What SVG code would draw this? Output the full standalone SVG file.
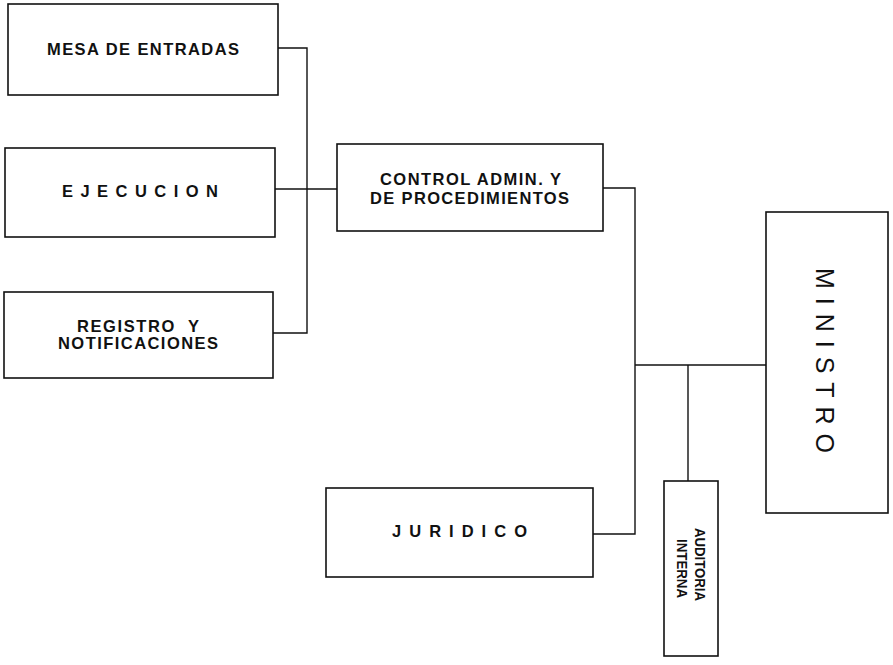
<svg xmlns="http://www.w3.org/2000/svg" width="893" height="665" viewBox="0 0 893 665">
<style>
.box{fill:#fff;stroke:#111;stroke-width:1.6}
.ln{fill:none;stroke:#111;stroke-width:1.4}
.t{font-family:"Liberation Sans",Arial,sans-serif;font-weight:bold;font-size:16.5px;fill:#111}
.tv{font-family:"Liberation Sans",Arial,sans-serif;font-weight:bold;font-size:14px;fill:#111}
</style>
<rect width="893" height="665" fill="#fff"/>
<g id="connectors">
<polyline class="ln" points="278,48 307,48 307,333 273,333"/>
<line class="ln" x1="275" y1="189" x2="337" y2="189"/>
<polyline class="ln" points="603,188 635,188 635,534 593,534"/>
<line class="ln" x1="635" y1="365" x2="766" y2="365"/>
<line class="ln" x1="688" y1="365" x2="688" y2="481"/>
</g>
<g id="mesa">
<rect class="box" x="8" y="4" width="270" height="91"/>
<text class="t" x="47" y="55" textLength="192" lengthAdjust="spacing">MESA DE ENTRADAS</text>
</g>
<g id="ejecucion">
<rect class="box" x="5" y="148" width="270" height="89"/>
<text class="t" x="62" y="197" textLength="156" lengthAdjust="spacing">EJECUCION</text>
</g>
<g id="registro">
<rect class="box" x="4" y="292" width="269" height="86"/>
<text class="t" x="77" y="332" textLength="122" lengthAdjust="spacing" xml:space="preserve">REGISTRO  Y</text>
<text class="t" x="58" y="349" textLength="160" lengthAdjust="spacing">NOTIFICACIONES</text>
</g>
<g id="control">
<rect class="box" x="337" y="144" width="266" height="87"/>
<text class="t" x="380" y="185" textLength="181" lengthAdjust="spacing">CONTROL ADMIN. Y</text>
<text class="t" x="370" y="204" textLength="199" lengthAdjust="spacing">DE PROCEDIMIENTOS</text>
</g>
<g id="juridico">
<rect class="box" x="326" y="488" width="267" height="89"/>
<text class="t" x="392" y="537" textLength="135" lengthAdjust="spacing">JURIDICO</text>
</g>
<g id="auditoria">
<rect class="box" x="664" y="481" width="54" height="175"/>
<text class="tv" transform="translate(695,528) rotate(90)" x="0" y="0" textLength="73" lengthAdjust="spacingAndGlyphs">AUDITORIA</text>
<text class="tv" transform="translate(677,539) rotate(90)" x="0" y="0" textLength="59" lengthAdjust="spacingAndGlyphs">INTERNA</text>
</g>
<g id="ministro">
<rect class="box" x="766" y="212" width="122" height="301"/>
<text class="t" style="font-size:25px;font-weight:normal" transform="translate(816,268) rotate(90)" x="0" y="0" textLength="185" lengthAdjust="spacing">MINISTRO</text>
</g>
</svg>
